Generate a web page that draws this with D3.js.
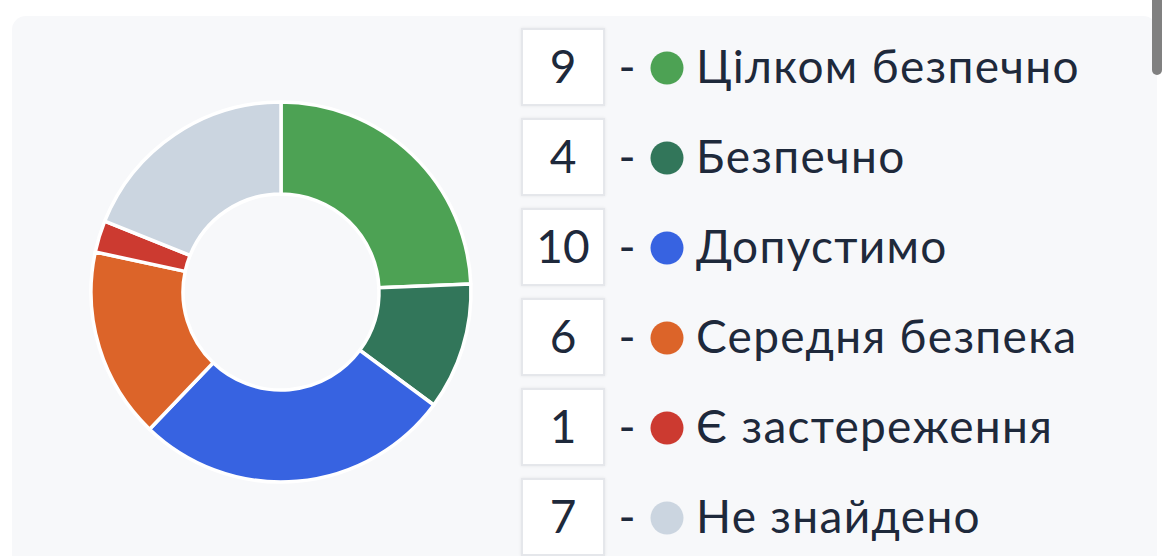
<!DOCTYPE html>
<html>
<head>
<meta charset="utf-8">
<script src="https://cdn.jsdelivr.net/npm/d3@7"></script>
<style>
  html, body { margin: 0; padding: 0; background: #ffffff; overflow: hidden; }
  svg { display: block; }
</style>
</head>
<body>
<svg id="chart" width="1170" height="556"></svg>
<script>
const categories = ["Цілком безпечно", "Безпечно", "Допустимо", "Середня безпека", "Є застереження", "Не знайдено"];
const counts = [9, 4, 10, 6, 1, 7];
const colors = ["#4da254", "#32765a", "#3763e1", "#dc6429", "#cc3a30", "#cbd5e0"];

const svg = d3.select("#chart");

const defs = svg.append("defs");
const f = defs.append("filter").attr("id", "sh").attr("x", "-20%").attr("y", "-20%").attr("width", "140%").attr("height", "140%");
f.append("feDropShadow").attr("dx", 0).attr("dy", 0).attr("stdDeviation", 1.5).attr("flood-color", "#000").attr("flood-opacity", 0.08);

// panel
svg.append("rect").attr("x", 12).attr("y", 16).attr("width", 1145).attr("height", 600)
  .attr("rx", 14).attr("fill", "#f7f8fa");

// donut
const cx = 281, cy = 292;
const pie = d3.pie().sort(null).value(d => d.v);
const arc = d3.arc().innerRadius(98).outerRadius(190);
const data = categories.map((c, i) => ({ c, v: counts[i], col: colors[i] }));
svg.append("g").attr("transform", `translate(${cx},${cy})`)
  .selectAll("path").data(pie(data)).join("path")
  .attr("d", arc).attr("fill", d => d.data.col)
  .attr("stroke", "#ffffff").attr("stroke-width", 3.5).attr("stroke-linejoin", "round");

// legend
const y = d3.scalePoint().domain(categories).range([67, 517]);
const fontFam = "Lato, 'Noto Sans', sans-serif";
const rows = svg.append("g").selectAll("g").data(data).join("g")
  .attr("transform", d => `translate(0,${y(d.c)})`);
rows.append("rect").attr("x", 522).attr("y", -38).attr("width", 82).attr("height", 76)
  .attr("fill", "#ffffff").attr("stroke", "#e5e7eb").attr("stroke-width", 2).attr("filter", "url(#sh)");
rows.append("text").attr("x", 563).attr("y", 16).attr("text-anchor", "middle")
  .attr("font-family", fontFam).attr("font-size", 46).attr("fill", "#1e293b").text(d => d.v);
rows.append("text").attr("x", 627).attr("y", 16).attr("text-anchor", "middle")
  .attr("font-family", fontFam).attr("font-size", 46).attr("fill", "#1e293b").text("-");
rows.append("circle").attr("cx", 667).attr("cy", 1).attr("r", 16.5).attr("fill", d => d.col);
rows.append("text").attr("x", 696).attr("y", 16)
  .attr("font-family", fontFam).attr("font-size", 46).attr("letter-spacing", 1.3)
  .attr("fill", "#1e293b").text(d => d.c);

// scrollbar
svg.append("rect").attr("x", 1152).attr("y", -8).attr("width", 10).attr("height", 83).attr("rx", 5).attr("fill", "#808080");
</script>
</body>
</html>
